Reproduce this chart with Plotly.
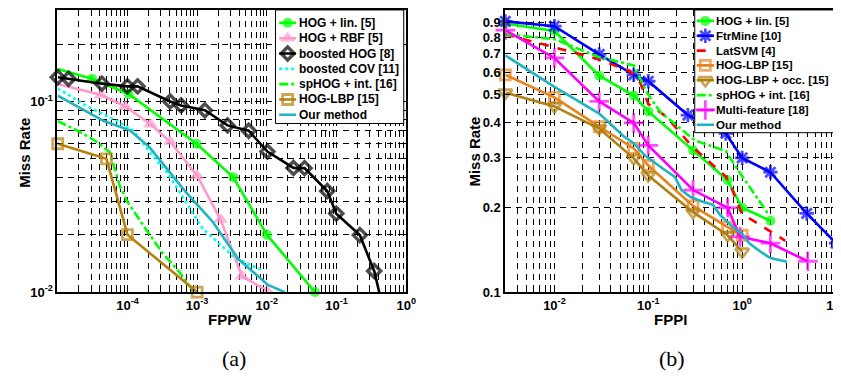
import plotly.graph_objects as go

# ---------------- Panel (a): FPPW ----------------
a_names = ["HOG + lin. [5]", "HOG + RBF [5]", "boosted HOG [8]", "boosted COV [11]",
           "spHOG + int. [16]", "HOG-LBP [15]", "Our method"]

a_hog_lin_x = [1e-5, 3.1e-5, 1.04e-4, 9.8e-4, 3.3e-3, 1.0e-2, 4.9e-2]
a_hog_lin_y = [0.148, 0.1317, 0.1095, 0.060, 0.040, 0.020, 0.010]

a_hog_rbf_x = [1e-5, 4.2e-5, 9.3e-5, 2.14e-4, 4.1e-4, 1.0e-3, 2.17e-3, 4.4e-3, 1.0e-2]
a_hog_rbf_y = [0.1234, 0.108, 0.0942, 0.0759, 0.0616, 0.0408, 0.0240, 0.0121, 0.0102]

a_boost_hog_x = [1e-5, 1.43e-5, 4.3e-5, 1.0e-4, 1.4e-4, 4.1e-4, 5.9e-4, 1.29e-3, 2.73e-3,
                 5.5e-3, 1.02e-2, 2.41e-2, 3.48e-2, 7.36e-2, 9.93e-2, 0.216, 0.347, 0.41]
a_boost_hog_y = [0.134, 0.1316, 0.124, 0.120, 0.120, 0.100, 0.0953, 0.0899, 0.0749,
                 0.0702, 0.0546, 0.0448, 0.0447, 0.0339, 0.0258, 0.0199, 0.0129, 0.0100]

a_boost_cov_x = [1e-5, 2.66e-5, 7.1e-5, 1.23e-4, 2.07e-4, 3.6e-4, 5.5e-4, 1.2e-3, 3.5e-3, 8.6e-3]
a_boost_cov_y = [0.117, 0.0942, 0.0789, 0.0702, 0.0543, 0.0429, 0.0339, 0.0215, 0.0151, 0.0130]

a_sphog_x = [1e-5, 2.05e-5, 3.7e-5, 5.6e-5, 7.8e-5, 9.8e-5, 1.88e-4, 3.2e-4, 5.6e-4, 9.0e-4]
a_sphog_y = [0.0789, 0.0694, 0.0611, 0.0541, 0.0359, 0.0301, 0.0211, 0.0160, 0.0127, 0.0100]

a_hog_lbp_x = [1e-5, 5e-5, 1e-4, 1e-3]
a_hog_lbp_y = [0.060, 0.050, 0.020, 0.010]

a_ours_x = [1e-5, 4.6e-5, 1.08e-4, 2.07e-4, 3.6e-4, 6.9e-4, 1.67e-3, 3.9e-3, 1.04e-2, 1.81e-2]
a_ours_y = [0.1073, 0.0789, 0.0706, 0.0576, 0.0448, 0.0334, 0.0234, 0.0149, 0.0109, 0.0100]

# ---------------- Panel (b): FPPI ----------------
b_names = ["HOG + lin. [5]", "FtrMine [10]", "LatSVM [4]", "HOG-LBP [15]",
           "HOG-LBP + occ. [15]", "spHOG + int. [16]", "Multi-feature [18]", "Our method"]

b_hog_lin_x = [0.003, 0.01, 0.03, 0.07, 0.1, 0.3, 0.7, 1.0, 2.0]
b_hog_lin_y = [0.895, 0.842, 0.585, 0.497, 0.437, 0.318, 0.249, 0.199, 0.179]

b_ftrmine_x = [0.003, 0.01, 0.03, 0.07, 0.1, 0.264, 0.67, 1.0, 2.0, 4.87, 10.0]
b_ftrmine_y = [0.911, 0.876, 0.696, 0.589, 0.559, 0.424, 0.365, 0.299, 0.266, 0.190, 0.149]

b_latsvm_x = [0.003, 0.0284, 0.0647, 0.0824, 0.1, 0.157, 0.29, 0.67, 0.79, 1.0, 1.51, 2.88]
b_latsvm_y = [0.820, 0.672, 0.605, 0.551, 0.464, 0.418, 0.329, 0.257, 0.229, 0.189, 0.174, 0.152]

b_hog_lbp_x = [0.003, 0.01, 0.03, 0.07, 0.1, 0.3, 0.7, 1.0]
b_hog_lbp_y = [0.589, 0.490, 0.386, 0.323, 0.281, 0.202, 0.170, 0.159]

b_hog_lbp_occ_x = [0.003, 0.01, 0.03, 0.07, 0.1, 0.3, 0.7, 1.0]
b_hog_lbp_occ_y = [0.509, 0.455, 0.380, 0.298, 0.259, 0.192, 0.159, 0.139]

b_sphog_x = [0.003, 0.01, 0.029, 0.07, 0.097, 0.134, 0.313, 0.67, 0.886, 1.88]
b_sphog_y = [0.820, 0.788, 0.683, 0.636, 0.509, 0.435, 0.345, 0.316, 0.273, 0.190]

b_multi_x = [0.003, 0.01, 0.03, 0.07, 0.1, 0.3, 0.7, 0.95, 2.0, 5.0]
b_multi_y = [0.848, 0.676, 0.474, 0.398, 0.331, 0.230, 0.199, 0.157, 0.149, 0.1286]

b_ours_x = [0.003, 0.01, 0.03, 0.055, 0.07, 0.093, 0.145, 0.192, 0.226, 0.277, 0.367,
            0.487, 0.573, 0.79, 1.0, 1.19, 1.57, 2.0, 3.0]
b_ours_y = [0.690, 0.534, 0.429, 0.356, 0.337, 0.304, 0.273, 0.256, 0.230, 0.218, 0.210,
            0.204, 0.189, 0.170, 0.161, 0.149, 0.139, 0.132, 0.128]

# tick labels
a_x_tickvals = [1e-4, 1e-3, 1e-2, 1e-1, 1]
a_x_ticktext = ["10<sup>-4</sup>", "10<sup>-3</sup>", "10<sup>-2</sup>", "10<sup>-1</sup>", "10<sup>0</sup>"]
a_y_tickvals = [0.01, 0.1]
a_y_ticktext = ["10<sup>-2</sup>", "10<sup>-1</sup>"]
b_x_tickvals = [0.01, 0.1, 1, 10]
b_x_ticktext = ["10<sup>-2</sup>", "10<sup>-1</sup>", "10<sup>0</sup>", "10<sup>1</sup>"]
b_y_tickvals = [0.1, 0.2, 0.3, 0.4, 0.5, 0.6, 0.7, 0.8, 0.9, 1.0]
b_y_ticktext = ["0.1", "0.2", "0.3", "0.4", "0.5", "0.6", "0.7", "0.8", "0.9", "1"]

# ---------------- styling ----------------
W, H = 841, 377
FONT = "Liberation Sans"
LW = 2.6

GREEN = "#00FF00"
PINK = "#FF9ACD"
BLACK = "#000000"
CYAN = "#00FFFF"
BROWN = "#B8800D"
TEAL = "#1FB4C2"
BLUE = "#0000FF"
RED = "#FF0000"
ORANGE = "#E8841C"
GOLD = "#B08012"
MAGENTA = "#FF00FF"

# style per series: (color, dash, symbol, marker size, open marker, skip first marker, skip last marker)
a_series = [
    (a_hog_lin_x, a_hog_lin_y, a_names[0], GREEN, "solid", "circle", 10, False, True, False),
    (a_hog_rbf_x, a_hog_rbf_y, a_names[1], PINK, "solid", "triangle-up", 13, False, True, False),
    (a_boost_hog_x, a_boost_hog_y, a_names[2], BLACK, "solid", "diamond-open", 10, True, False, True),
    (a_boost_cov_x, a_boost_cov_y, a_names[3], CYAN, "dot", None, 0, False, False, False),
    (a_sphog_x, a_sphog_y, a_names[4], GREEN, "dashdot", None, 0, False, False, False),
    (a_hog_lbp_x, a_hog_lbp_y, a_names[5], BROWN, "solid", "square-open", 10, True, False, False),
    (a_ours_x, a_ours_y, a_names[6], TEAL, "solid", None, 0, False, False, False),
]
b_series = [
    (b_hog_lin_x, b_hog_lin_y, b_names[0], GREEN, "solid", "circle", 10, False, False, False),
    (b_ftrmine_x, b_ftrmine_y, b_names[1], BLUE, "solid", "asterisk-open", 12, True, False, False),
    (b_latsvm_x, b_latsvm_y, b_names[2], RED, "dash", None, 0, False, False, False),
    (b_hog_lbp_x, b_hog_lbp_y, b_names[3], ORANGE, "solid", "square-open", 10, True, False, False),
    (b_hog_lbp_occ_x, b_hog_lbp_occ_y, b_names[4], GOLD, "solid", "triangle-down-open", 12, True, False, False),
    (b_sphog_x, b_sphog_y, b_names[5], GREEN, "dashdot", None, 0, False, False, False),
    (b_multi_x, b_multi_y, b_names[6], MAGENTA, "solid", "cross-thin-open", 14, True, False, False),
    (b_ours_x, b_ours_y, b_names[7], TEAL, "solid", None, 0, False, False, False),
]

fig = go.Figure()


def marker_dict(color, symbol, size_list, open_, lw=2.8):
    return dict(symbol=symbol, size=size_list, color=color,
                line=dict(color=color, width=lw if open_ else 0))


def mline(symbol):
    return 3.4 if symbol == "diamond-open" else 2.8


def draw_series(series, xa, ya):
    for (x, y, name, color, dash, symbol, ms, open_, skip_first, skip_last) in series:
        kw = {}
        if symbol:
            sizes = [ms] * len(x)
            if skip_first:
                sizes[0] = 0
            if skip_last:
                sizes[-1] = 0
            kw["marker"] = marker_dict(color, symbol, sizes, open_, mline(symbol))
        fig.add_trace(go.Scatter(x=x, y=y, name=name, xaxis=xa, yaxis=ya,
                                 mode="lines+markers" if symbol else "lines",
                                 line=dict(color=color, width=LW, dash=dash),
                                 showlegend=False, cliponaxis=False, **kw))


draw_series(a_series, "x", "y")
draw_series(b_series, "x2", "y2")

# ---------------- axes ----------------
tickfont = dict(family=FONT, size=13, color="black", weight="bold")
GD = "6px,5px"


def minor_vals(lo_exp, hi_exp):
    return [k * 10 ** e for e in range(lo_exp, hi_exp) for k in range(2, 10)]


def axis(domain, rng, tv, tt, minor_tv, anchor):
    return dict(type="log", domain=domain, range=rng, anchor=anchor,
                tickmode="array", tickvals=tv, ticktext=tt, tickfont=tickfont,
                ticks="inside", ticklen=5, tickcolor="black", tickwidth=1,
                showline=True, linecolor="black", linewidth=2, mirror="ticks",
                zeroline=False, showgrid=True, gridcolor="black", gridwidth=1, griddash=GD,
                minor=dict(tickmode="array", tickvals=minor_tv, ticks="inside", ticklen=3,
                           tickcolor="black", showgrid=True, gridcolor="black", gridwidth=1,
                           griddash=GD))


ydom = [(H - 290) / H, (H - 1) / H]
fig.update_layout(
    width=W, height=H, margin=dict(l=0, r=0, t=0, b=0),
    paper_bgcolor="white", plot_bgcolor="white", showlegend=False,
    xaxis=axis([50 / W, 403 / W], [-5.005, 0], a_x_tickvals, a_x_ticktext,
               minor_vals(-5, 0), "y"),
    yaxis=axis(ydom, [-2, -0.52], a_y_tickvals, a_y_ticktext,
               [0.02, 0.03, 0.04, 0.05, 0.06, 0.07, 0.08, 0.09, 0.2, 0.3], "x"),
    xaxis2=axis([503.3 / W, 838 / W], [-2.523, 1], b_x_tickvals, b_x_ticktext,
                minor_vals(-3, 1), "y2"),
    yaxis2=axis(ydom, [-1, 0], b_y_tickvals, b_y_ticktext, [], "x2"),
)

# ---------------- MATLAB-style legends (own small axes) ----------------


def draw_legend(series, box, sample, text_x, first_y, step, idx, fsize):
    leg_font = dict(family=FONT, size=fsize, color="black", weight="bold")
    L, T, R, B = box
    xa, ya = "x%d" % idx, "y%d" % idx
    fig.layout["xaxis%d" % idx] = dict(domain=[L / W, R / W], range=[L, R], visible=False,
                                       anchor=ya, fixedrange=True)
    fig.layout["yaxis%d" % idx] = dict(domain=[(H - B) / H, (H - T) / H], range=[B, T],
                                       visible=False, anchor=xa, fixedrange=True)
    fig.add_trace(go.Scatter(x=[L, R, R, L, L], y=[T, T, B, B, T], fill="toself",
                             fillcolor="white", mode="none", xaxis=xa, yaxis=ya,
                             showlegend=False, hoverinfo="skip"))
    x0, x1 = sample
    for i, (x, y, name, color, dash, symbol, ms, open_, sf, sl) in enumerate(series):
        yy = first_y + i * step
        kw = {}
        if symbol:
            kw["marker"] = marker_dict(color, symbol, [0, ms, 0], open_, mline(symbol))
        fig.add_trace(go.Scatter(x=[x0, (x0 + x1) / 2, x1], y=[yy, yy, yy], xaxis=xa, yaxis=ya,
                                 mode="lines+markers" if symbol else "lines",
                                 line=dict(color=color, width=LW, dash=dash),
                                 showlegend=False, hoverinfo="skip", cliponaxis=False, **kw))
        fig.add_annotation(xref="paper", yref="paper", x=text_x / W, y=1 - yy / H, text=name,
                           xanchor="left", yanchor="middle", showarrow=False, font=leg_font,
                           borderpad=0)
    fig.add_shape(type="rect", xref="paper", yref="paper", x0=L / W, x1=R / W,
                  y0=(H - B) / H, y1=(H - T) / H, line=dict(color="black", width=1),
                  layer="above")


draw_legend(a_series, (270.7, 1, 400.5, 117.3), (274.5, 291.5), 293.0, 14.2, 15.7, 3, 12)
draw_legend(b_series, (695.0, 1, 838.0, 126.7), (697.0, 714.5), 715.5, 12.2, 15.2, 4, 11.5)

# ---------------- titles / captions ----------------
title_font = dict(family=FONT, size=15, color="black", weight="bold")
cap_font = dict(family="Liberation Serif", size=22, color="black")
ann = [
    dict(text="Miss Rate", x=16.5 / W, y=1 - 147 / H, textangle=-90, font=title_font),
    dict(text="Miss Rate", x=471.7 / W, y=1 - 146 / H, textangle=-90, font=title_font),
    dict(text="FPPW", x=225 / W, y=1 - 318 / H, font=title_font),
    dict(text="FPPI", x=670 / W, y=1 - 318 / H, font=title_font),
    dict(text="(a)", x=229 / W, y=1 - 358 / H, font=cap_font),
    dict(text="(b)", x=672 / W, y=1 - 358 / H, font=cap_font),
]
for a in ann:
    fig.add_annotation(xref="paper", yref="paper", showarrow=False,
                       xanchor="center", yanchor="middle", **a)

fig.write_html("out.html")
